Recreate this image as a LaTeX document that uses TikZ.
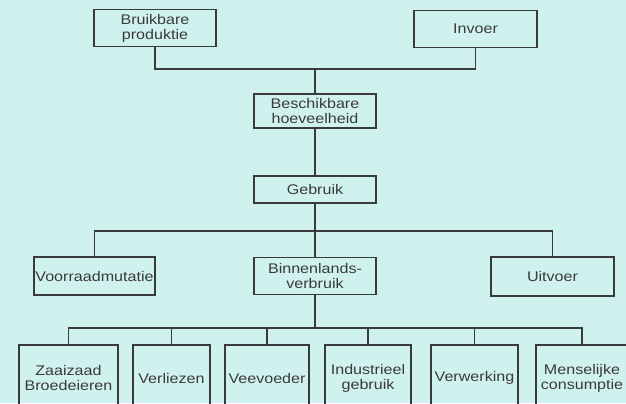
\documentclass[tikz,border=0pt]{standalone}
\usepackage{fontspec}
\setmainfont{Liberation Sans}[FakeStretch=1.15]
\usepackage{xcolor}
\usepackage{tikz}
\definecolor{paper}{HTML}{D0F2EF}
\definecolor{ink}{HTML}{3A3A3A}

\begin{document}
\begin{tikzpicture}[
			     x=0.5pt, y=-0.5pt,
			     link/.style={draw=ink, line width=0.8pt},
			     box/.style={draw=ink, line width=0.75pt, text=ink, align=center, inner sep=0pt,
			                 font=\fontsize{7}{7.6}\selectfont}
			     ]
\fill[paper] (0,0) rectangle (626,403);
\useasboundingbox (0,0) rectangle (626,403);
% top
\node[box, minimum width=61pt, minimum height=18.5pt] (prod) at (155,28) {Bruikbare\\produktie};
\node[box, minimum width=61.5pt, minimum height=18.5pt] (invoer) at (475.5,29) {Invoer};
\node[box, minimum width=61pt, minimum height=17pt] (hoev) at (315,111) {Beschikbare\\hoeveelheid};
\node[box, minimum width=61pt, minimum height=13.5pt] (gebruik) at (315,189.5) {Gebruik};
% middle
\node[box, minimum width=60.5pt, minimum height=19pt] (voorraad) at (94.5,276) {Voorraadmutatie};
\node[box, minimum width=61pt, minimum height=18.5pt] (binnen) at (315,276) {Binnenlands-\\verbruik};
\node[box, minimum width=61.5pt, minimum height=19.5pt] (uitvoer) at (552.5,276.5) {Uitvoer};
% bottom
\node[box, minimum width=49.5pt, minimum height=33pt] (zaai) at (68.5,378) {Zaaizaad\\Broedeieren};
\node[box, minimum width=38.5pt, minimum height=33pt] (verl) at (171.5,378) {Verliezen};
\node[box, minimum width=42pt, minimum height=33pt] (vee) at (267,378) {Veevoeder};
\node[box, minimum width=43pt, minimum height=33pt] (indus) at (368,378) {Industrieel\\gebruik};
\node[box, minimum width=43.5pt, minimum height=33pt] (verw) at (474.5,378) {Verwerking};
\node[box, minimum width=46pt, minimum height=33pt] (mens) at (582,378) {Menselijke\\consumptie};

\coordinate (topjoin) at (315,69);
\coordinate (midjoin) at (315,231);
\coordinate (lowjoin) at (315,328);

\draw[link] (prod.south) |- (topjoin) -| (invoer.south);
\path[link] (topjoin) edge (hoev.north);
\path[link] (hoev) edge (gebruik);
\draw[link] (voorraad.north) |- (midjoin) -| (uitvoer.north);
\path[link] (gebruik) edge (binnen);
\path[link] (binnen) edge (lowjoin);
\draw[link] (zaai.north) |- (lowjoin) -| (mens.north);
\foreach \n in {verl,vee,indus,verw}
  \draw[link] (\n.north) -- (\n.north |- lowjoin);
\end{tikzpicture}
\end{document}
